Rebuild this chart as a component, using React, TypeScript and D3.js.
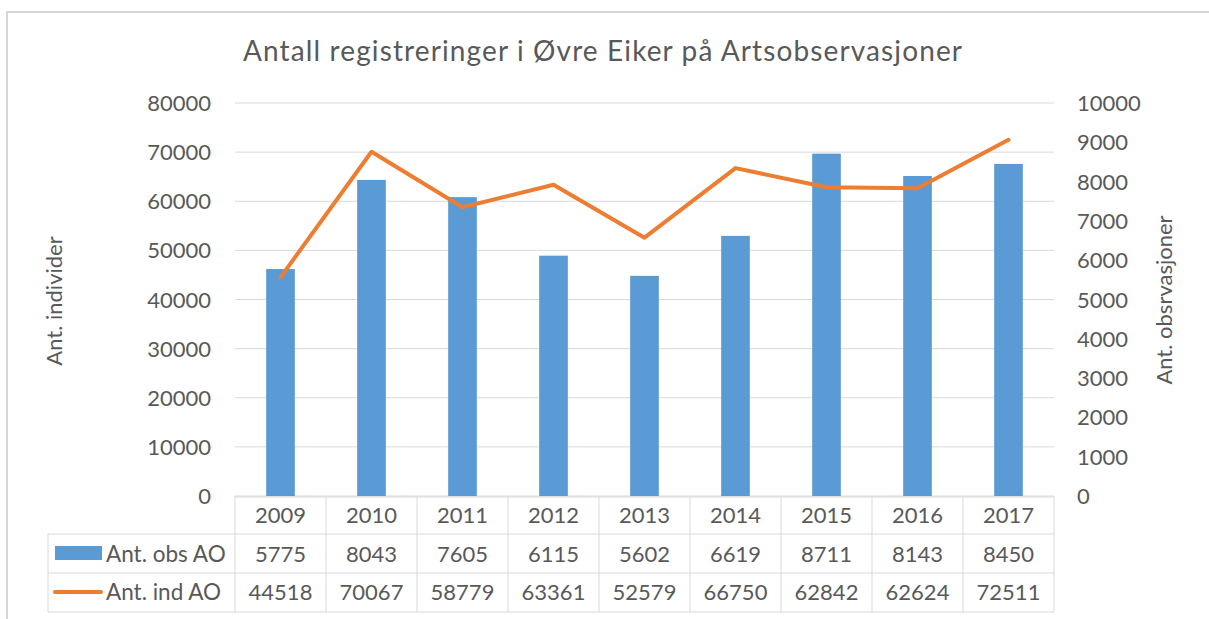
import React from "react";
import * as d3 from "d3";

const years = ["2009", "2010", "2011", "2012", "2013", "2014", "2015", "2016", "2017"];
const obsAO = [5775, 8043, 7605, 6115, 5602, 6619, 8711, 8143, 8450];
const indAO = [44518, 70067, 58779, 63361, 52579, 66750, 62842, 62624, 72511];
const leftTicks = [0, 10000, 20000, 30000, 40000, 50000, 60000, 70000, 80000];
const rightTicks = [0, 1000, 2000, 3000, 4000, 5000, 6000, 7000, 8000, 9000, 10000];

const W = 1209;
const H = 619;
const plotL = 235;
const plotR = 1054;
const plotT = 103;
const plotB = 496;
const BLUE = "#5B9BD5";
const ORANGE = "#ED7D31";
const TXT = "#595959";
const GRID = "#d9d9d9";
const FONT = "Lato, Carlito, 'Open Sans', sans-serif";

export default function App() {
  const x = d3.scaleBand<string>().domain(years).range([plotL, plotR]).padding(0);
  const yL = d3.scaleLinear().domain([0, 80000]).range([plotB, plotT]);
  const yR = d3.scaleLinear().domain([0, 10000]).range([plotB, plotT]);
  const bw = x.bandwidth() * 0.315;
  const line = d3
    .line<number>()
    .x((_, i) => (x(years[i]) as number) + x.bandwidth() / 2)
    .y((d) => yL(d));

  const tableTop = 497;
  const rowLines = [tableTop, 534, 573, 612];
  const baselines = [523, 562, 600];
  const legendL = 48;

  return (
    <svg
      width={W}
      height={H}
      style={{ position: "absolute", left: 0, top: 0, fontFamily: FONT }}
    >
      <rect x={0} y={0} width={W} height={H} fill="#fff" />
      <rect x={7} y={12} width={W + 5} height={H + 10} fill="#fff" stroke="#d6d6d6" strokeWidth={2} />
      <text
        x={243}
        y={61}
        textAnchor="start"
        fontSize={28}
        fill={TXT}
        textLength={719}
        lengthAdjust="spacing"
      >
        Antall registreringer i Øvre Eiker på Artsobservasjoner
      </text>

      {/* gridlines */}
      {leftTicks.map((t) => (
        <line key={"g" + t} x1={plotL} x2={plotR} y1={yL(t)} y2={yL(t)} stroke={GRID} strokeWidth={1} />
      ))}

      {/* left ticks */}
      {leftTicks.map((t) => (
        <text key={"l" + t} x={211} y={yL(t) + 8} textAnchor="end" fontSize={22} fill={TXT}>
          {t}
        </text>
      ))}
      {/* right ticks */}
      {rightTicks.map((t) => (
        <text key={"r" + t} x={1077} y={yR(t) + 8} textAnchor="start" fontSize={22} fill={TXT}>
          {t}
        </text>
      ))}

      {/* axis titles */}
      <text transform={`translate(62,301) rotate(-90)`} textAnchor="middle" fontSize={22} fill={TXT}>
        Ant. individer
      </text>
      <text transform={`translate(1172,300) rotate(-90)`} textAnchor="middle" fontSize={22} fill={TXT}>
        Ant. obsrvasjoner
      </text>

      {/* bars */}
      {obsAO.map((v, i) => {
        const cx = (x(years[i]) as number) + x.bandwidth() / 2;
        return (
          <rect key={"b" + i} x={cx - bw / 2} y={yR(v)} width={bw} height={plotB - yR(v)} fill={BLUE} />
        );
      })}

      {/* line */}
      <path
        d={line(indAO) || ""}
        fill="none"
        stroke={ORANGE}
        strokeWidth={4}
        strokeLinejoin="round"
        strokeLinecap="round"
      />

      {/* data table */}
      <line x1={plotL} x2={plotR} y1={rowLines[0]} y2={rowLines[0]} stroke={GRID} />
      {rowLines.slice(1).map((y, i) => (
        <line key={"rl" + i} x1={legendL} x2={plotR} y1={y} y2={y} stroke={GRID} />
      ))}
      <line x1={legendL} x2={legendL} y1={rowLines[1]} y2={rowLines[3]} stroke={GRID} />
      {years.map((yr, i) => (
        <line
          key={"vl" + i}
          x1={x(yr) as number}
          x2={x(yr) as number}
          y1={plotB}
          y2={rowLines[3]}
          stroke={GRID}
        />
      ))}
      <line x1={plotR} x2={plotR} y1={plotB} y2={rowLines[3]} stroke={GRID} />

      {years.map((yr, i) => {
        const cx = (x(yr) as number) + x.bandwidth() / 2;
        return (
          <g key={"t" + i} fontSize={22} fill={TXT} textAnchor="middle">
            <text x={cx} y={baselines[0]}>{yr}</text>
            <text x={cx} y={baselines[1]}>{obsAO[i]}</text>
            <text x={cx} y={baselines[2]}>{indAO[i]}</text>
          </g>
        );
      })}

      {/* legend keys */}
      <rect x={55} y={546} width={47} height={14} fill={BLUE} />
      <line x1={55} x2={101} y1={592} y2={592} stroke={ORANGE} strokeWidth={4} strokeLinecap="round" />
      <text x={106} y={baselines[1]} fontSize={22.5} fill={TXT}>Ant. obs AO</text>
      <text x={106} y={baselines[2]} fontSize={22.5} fill={TXT}>Ant. ind AO</text>
    </svg>
  );
}
